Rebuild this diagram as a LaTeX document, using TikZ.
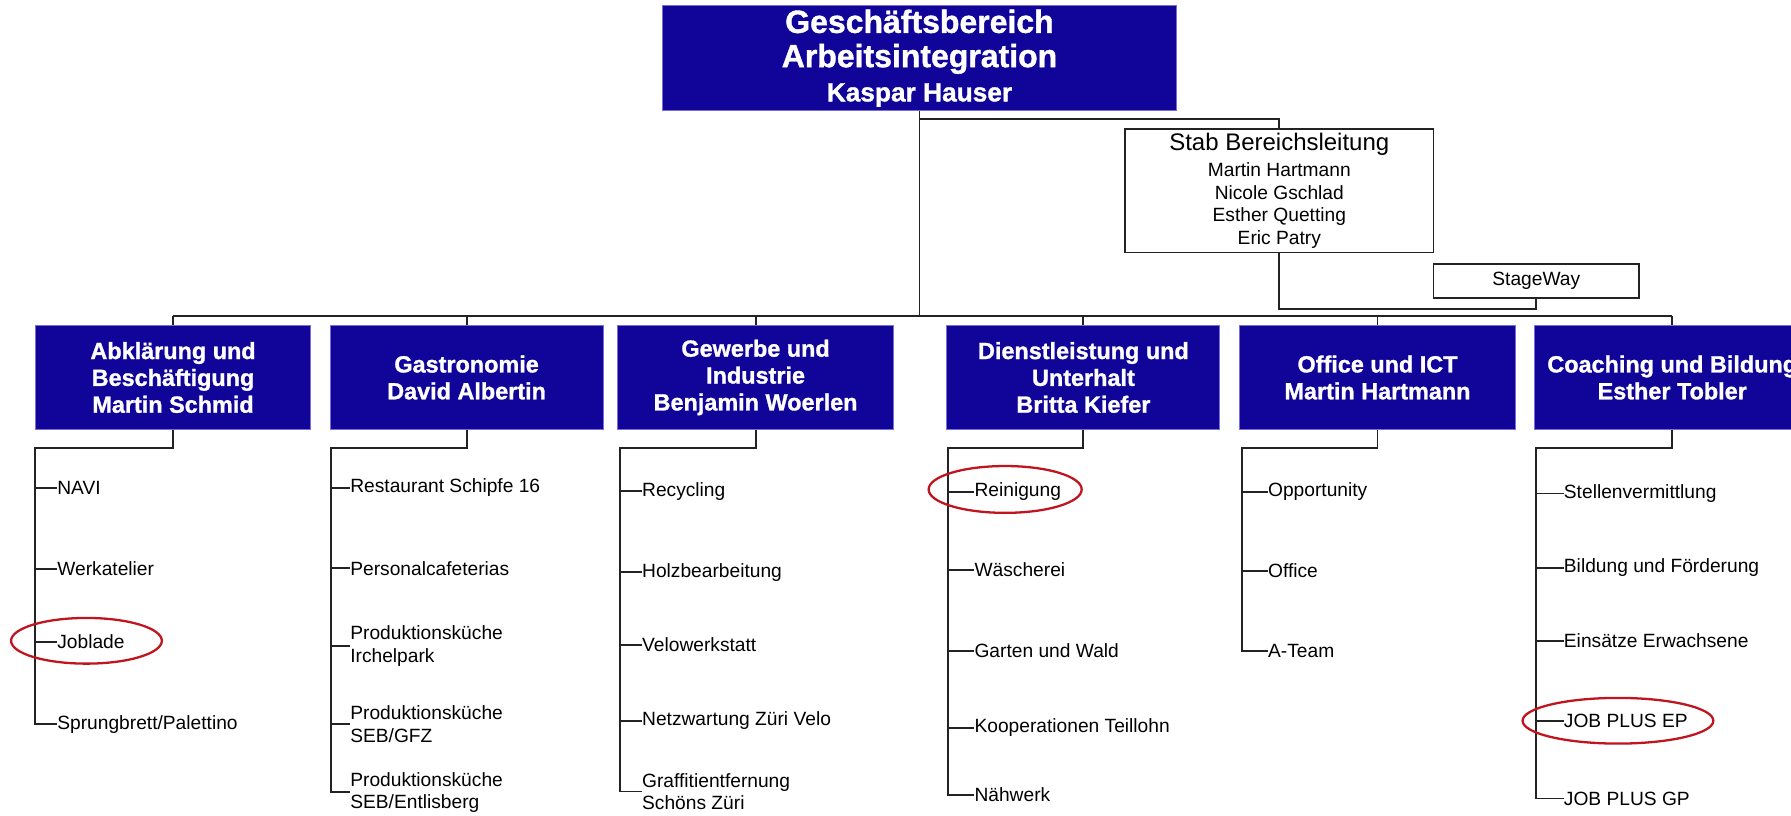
\documentclass[tikz,border=0pt]{standalone}
\usepackage{fontspec}
\setmainfont{Liberation Sans}[BoldFeatures={FakeBold=1.2}]
\definecolor{unitblue}{RGB}{17,5,153}
\definecolor{unitedge}{RGB}{120,110,215}
\definecolor{ringred}{RGB}{192,20,30}
\definecolor{linegray}{RGB}{35,35,35}
\tikzset{
  unit/.style={draw=unitedge, line width=0.8pt, fill=unitblue, text=white, align=center,
    inner sep=0pt, font=\bfseries\fontsize{20.5}{23.5}\selectfont,
    minimum width=241pt, minimum height=91pt},
  staff/.style={draw=linegray, line width=1.4pt, fill=white, align=center, inner sep=0pt,
    font=\fontsize{16.8}{19.7}\selectfont},
  item/.style={anchor=west, inner sep=0pt, align=left, font=\fontsize{16.8}{19.5}\selectfont},
  link/.style={draw=linegray, line width=1.6pt},
  ring/.style={draw=ringred, line width=2pt},
}
\begin{document}
\begin{tikzpicture}[x=1pt,y=-1pt]
\clip (0,0) rectangle (1568,714);
% Bereichsleitung und Stab
\node[unit, minimum width=450pt, minimum height=92pt, font=\bfseries\fontsize{28}{30}\selectfont] (gb) at (805,51)
  {Geschäftsbereich\\Arbeitsintegration\\{\fontsize{23}{27}\selectfont Kaspar Hauser}};
\node[staff, minimum width=270pt, minimum height=108pt] (stab) at (1120,167)
  {{\fontsize{21}{24}\selectfont Stab Bereichsleitung}\\[3pt]Martin Hartmann\\Nicole Gschlad\\Esther Quetting\\Eric Patry};
\node[staff, minimum width=180pt, minimum height=30pt] (stage) at (1345,246) {StageWay};

% Geschaeftsfelder
\node[unit] (abk) at (151.5,330.5) {Abklärung und\\Beschäftigung\\Martin Schmid};
\node[unit, minimum width=239pt] (gas) at (408.5,330.5) {Gastronomie\\David Albertin};
\node[unit] (gew) at (661.5,330.5) {Gewerbe und\\Industrie\\Benjamin Woerlen};
\node[unit, minimum width=239pt] (dl) at (948.5,330.5) {Dienstleistung und\\Unterhalt\\Britta Kiefer};
\node[unit, minimum width=242pt] (off) at (1206,330.5) {Office und ICT\\Martin Hartmann};
\node[unit, minimum width=242pt] (coa) at (1464,330.5) {Coaching und Bildung\\Esther Tobler};

% Verbindungen oben
\coordinate (bus) at (805,277);
\coordinate (stabjoin) at (805,104);
\draw[link] (gb.south) -- (bus);
\draw[link] (stabjoin) -| (stab.north);
\draw[link] (stab.south) -- ++(0,49) -| (stage.south);
\draw[link] (abk.north |- bus) -- (coa.north |- bus);
\foreach \u in {abk,gas,gew,dl,off,coa}
  \draw[link] (\u.north |- bus) -- (\u.north);

% Betriebe
\foreach \y/\t [count=\i] in {427/NAVI, 498/Werkatelier, 562/Joblade, 634/{Sprungbrett/Palettino}}
  \node[item] (abk-\i) at (50,\y) {\t};
\foreach \y/\t [count=\i] in {427/Restaurant Schipfe 16, 497.5/Personalcafeterias,
    565.6/{Produktionsküche\\Irchelpark}, 634/{Produktionsküche\\SEB/GFZ},
    693.7/{Produktionsküche\\SEB/Entlisberg}}
  \node[item] (gas-\i) at (306.5,\y) {\t};
\foreach \y/\t [count=\i] in {430/Recycling, 501/Holzbearbeitung, 564.7/Velowerkstatt,
    631/Netzwartung Züri Velo, 693/{Graffitientfernung\\Schöns Züri}}
  \node[item] (gew-\i) at (562,\y) {\t};
\foreach \y/\t [count=\i] in {430.5/Reinigung, 499/Wäscherei, 569.7/Garten und Wald,
    637/Kooperationen Teillohn, 696/Nähwerk}
  \node[item] (dl-\i) at (853,\y) {\t};
\foreach \y/\t [count=\i] in {430.5/Opportunity, 500/Office, 569.7/A-Team}
  \node[item] (off-\i) at (1110,\y) {\t};
\foreach \y/\t [count=\i] in {432/Stellenvermittlung, 497/Bildung und Förderung,
    561/Einsätze Erwachsene, 631/JOB PLUS EP, 699/JOB PLUS GP}
  \node[item] (coa-\i) at (1369,\y) {\t};

% Verbindungen unten
\foreach \u/\x/\n in {abk/31/4, gas/290/5, gew/543/5, dl/830/5, off/1087/3, coa/1345/5} {
  \coordinate (\u S) at (\x,392);
  \draw[link] (\u.south) |- (\u S) |- (\u-\n.west);
  \foreach \i in {1,...,\n}
    \draw[link] (\u S |- \u-\i.west) -- (\u-\i.west);
}

% Markierungen
\draw[ring] (75.7,561) ellipse [x radius=66pt, y radius=20pt];
\draw[ring] (880,428.5) ellipse [x radius=67pt, y radius=20.5pt];
\draw[ring] (1416.5,631) ellipse [x radius=83.5pt, y radius=20pt];
\end{tikzpicture}
\end{document}
